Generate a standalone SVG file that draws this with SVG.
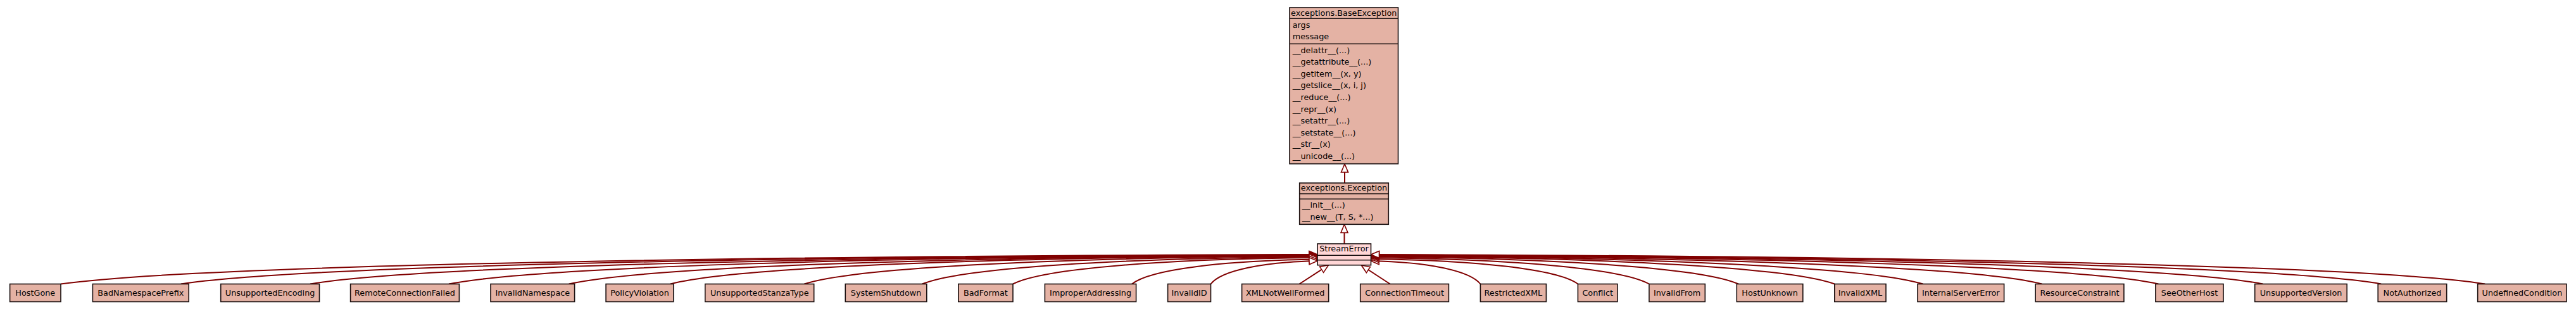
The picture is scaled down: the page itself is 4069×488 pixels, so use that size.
<svg xmlns="http://www.w3.org/2000/svg" width="4069" height="488" viewBox="0 0 4069 488">
<style>
.bg{fill:#ffffff}
.box{fill:#e4b2a4;stroke:#1a1010;stroke-width:1.6}
.sbox{fill:#ffd6d6;stroke:#1a1010;stroke-width:1.6}
.sep{stroke:#1a1010;stroke-width:1.6}
text{font-family:"DejaVu Sans","Liberation Sans",sans-serif;font-size:12.8px;fill:#000}
.c{text-anchor:middle}
.e{fill:none;stroke:#800000;stroke-width:2}
</style>
<defs>
<marker id="gen" markerUnits="userSpaceOnUse" markerWidth="16" markerHeight="14" refX="13" refY="5.5" orient="auto" viewBox="-1 -1 16 13">
<path d="M0,0 L13,5.5 L0,11 Z" fill="#ffffff" stroke="#800000" stroke-width="1.6"/>
</marker>
</defs>
<rect class="bg" x="0" y="0" width="4069" height="488"/>

<g id="connectors">
<path class="e" d="M2124,289 L2124,259" marker-end="url(#gen)"/>
<path class="e" d="M2123.5,385 L2123.5,354.5" marker-end="url(#gen)"/>
<path class="e" d="M96,448.5 C294.5,420.6 1088.5,404.3 2081,402" marker-end="url(#gen)"/>
<path class="e" d="M285.7,448.5 C465.2,420.9 1183.4,404.8 2081,402.5" marker-end="url(#gen)"/>
<path class="e" d="M490,448.5 C649.1,421.2 1285.5,405.3 2081,403" marker-end="url(#gen)"/>
<path class="e" d="M709,448.5 C846.2,421.2 1395,405.3 2081,403" marker-end="url(#gen)"/>
<path class="e" d="M898.7,448.5 C1016.9,421.5 1489.9,405.8 2081,403.5" marker-end="url(#gen)"/>
<path class="e" d="M1059,448.5 C1161.2,421.8 1570,406.2 2081,404" marker-end="url(#gen)"/>
<path class="e" d="M1270.5,448.5 C1351.6,422.1 1675.8,406.7 2081,404.5" marker-end="url(#gen)"/>
<path class="e" d="M1456.7,448.5 C1519.1,422.7 1768.9,407.7 2081,405.5" marker-end="url(#gen)"/>
<path class="e" d="M1600,448.5 C1648.1,423.6 1840.5,409.1 2081,407" marker-end="url(#gen)"/>
<path class="e" d="M1788,448.5 C1817.3,425.1 1934.5,411.5 2081,409.5" marker-end="url(#gen)"/>
<path class="e" d="M1912.5,448.5 C1929.4,426.6 1996.8,413.8 2081,412" marker-end="url(#gen)"/>
<path class="e" d="M2052.5,448.5 L2098.5,418.7" marker-end="url(#gen)"/>
<path class="e" d="M2195.7,448.5 L2150.5,419" marker-end="url(#gen)"/>
<path class="e" d="M2338.4,448.5 C2321.1,426.6 2252,413.8 2165.5,412" marker-end="url(#gen)"/>
<path class="e" d="M2492.4,448.5 C2459.7,424.8 2329,411 2165.5,409" marker-end="url(#gen)"/>
<path class="e" d="M2605,448.5 C2561,423.6 2385.3,409.1 2165.5,407" marker-end="url(#gen)"/>
<path class="e" d="M2746,448.5 C2688,422.7 2455.8,407.7 2165.5,405.5" marker-end="url(#gen)"/>
<path class="e" d="M2897.8,448.5 C2824.6,422.1 2531.7,406.7 2165.5,404.5" marker-end="url(#gen)"/>
<path class="e" d="M3037.5,448.5 C2950.3,421.8 2601.5,406.2 2165.5,404" marker-end="url(#gen)"/>
<path class="e" d="M3225.4,448.5 C3119.4,421.5 2695.5,405.8 2165.5,403.5" marker-end="url(#gen)"/>
<path class="e" d="M3409.4,448.5 C3285,421.2 2787.5,405.3 2165.5,403" marker-end="url(#gen)"/>
<path class="e" d="M3574.4,448.5 C3433.5,420.9 2870,404.8 2165.5,402.5" marker-end="url(#gen)"/>
<path class="e" d="M3761.2,448.5 C3601.6,420.9 2963.4,404.8 2165.5,402.5" marker-end="url(#gen)"/>
<path class="e" d="M3925.3,448.5 C3749.3,420.6 3045.4,404.3 2165.5,402" marker-end="url(#gen)"/>
</g>

<g id="BaseException">
<rect class="box" x="2037" y="12" width="171.5" height="246.7"/>
<line class="sep" x1="2037" y1="29.3" x2="2208.5" y2="29.3"/>
<line class="sep" x1="2037" y1="69.3" x2="2208.5" y2="69.3"/>
<text class="c" x="2122.7" y="24.5">exceptions.BaseException</text>
<text x="2041.7" y="43.5">args</text>
<text x="2041.7" y="62.3">message</text>
<text x="2041.7" y="83.5">__delattr__(...)</text>
<text x="2041.7" y="102.1">__getattribute__(...)</text>
<text x="2041.7" y="120.7">__getitem__(x, y)</text>
<text x="2041.7" y="139.3">__getslice__(x, i, j)</text>
<text x="2041.7" y="157.9">__reduce__(...)</text>
<text x="2041.7" y="176.5">__repr__(x)</text>
<text x="2041.7" y="195.1">__setattr__(...)</text>
<text x="2041.7" y="213.7">__setstate__(...)</text>
<text x="2041.7" y="232.3">__str__(x)</text>
<text x="2041.7" y="250.9">__unicode__(...)</text>
</g>

<g id="Exception">
<rect class="box" x="2052.7" y="289" width="140.6" height="65.3"/>
<line class="sep" x1="2052.7" y1="306" x2="2193.3" y2="306"/>
<line class="sep" x1="2052.7" y1="314.3" x2="2193.3" y2="314.3"/>
<text class="c" x="2123" y="301.2">exceptions.Exception</text>
<text x="2056.7" y="327.7">__init__(...)</text>
<text x="2056.7" y="346.5">__new__(T, S, *...)</text>
</g>

<g id="StreamError">
<rect class="sbox" x="2081" y="385" width="84.5" height="33.7"/>
<line class="sep" x1="2081" y1="403.3" x2="2165.5" y2="403.3"/>
<line class="sep" x1="2081" y1="410.7" x2="2165.5" y2="410.7"/>
<text class="c" x="2123" y="397.3">StreamError</text>
</g>

<g id="HostGone"><rect class="box" x="15.6" y="448.5" width="80.4" height="28"/><text class="c" x="55.8" y="466.5">HostGone</text></g>
<g id="BadNamespacePrefix"><rect class="box" x="146.4" y="448.5" width="151.8" height="28"/><text class="c" x="222.3" y="466.5">BadNamespacePrefix</text></g>
<g id="UnsupportedEncoding"><rect class="box" x="348.7" y="448.5" width="155.8" height="28"/><text class="c" x="426.6" y="466.5">UnsupportedEncoding</text></g>
<g id="RemoteConnectionFailed"><rect class="box" x="553.6" y="448.5" width="171.8" height="28"/><text class="c" x="639.5" y="466.5">RemoteConnectionFailed</text></g>
<g id="InvalidNamespace"><rect class="box" x="775" y="448.5" width="132.6" height="28"/><text class="c" x="841.3" y="466.5">InvalidNamespace</text></g>
<g id="PolicyViolation"><rect class="box" x="957.1" y="448.5" width="106.7" height="28"/><text class="c" x="1010.5" y="466.5">PolicyViolation</text></g>
<g id="UnsupportedStanzaType"><rect class="box" x="1113.8" y="448.5" width="171.9" height="28"/><text class="c" x="1199.8" y="466.5">UnsupportedStanzaType</text></g>
<g id="SystemShutdown"><rect class="box" x="1335.3" y="448.5" width="128.5" height="28"/><text class="c" x="1399.6" y="466.5">SystemShutdown</text></g>
<g id="BadFormat"><rect class="box" x="1513.8" y="448.5" width="86.2" height="28"/><text class="c" x="1556.9" y="466.5">BadFormat</text></g>
<g id="ImproperAddressing"><rect class="box" x="1650.4" y="448.5" width="144.2" height="28"/><text class="c" x="1722.5" y="466.5">ImproperAddressing</text></g>
<g id="InvalidID"><rect class="box" x="1844.6" y="448.5" width="67.9" height="28"/><text class="c" x="1878.6" y="466.5">InvalidID</text></g>
<g id="XMLNotWellFormed"><rect class="box" x="1961.6" y="448.5" width="137.1" height="28"/><text class="c" x="2030.2" y="466.5">XMLNotWellFormed</text></g>
<g id="ConnectionTimeout"><rect class="box" x="2148.7" y="448.5" width="139.7" height="28"/><text class="c" x="2218.6" y="466.5">ConnectionTimeout</text></g>
<g id="RestrictedXML"><rect class="box" x="2338.4" y="448.5" width="104" height="28"/><text class="c" x="2390.4" y="466.5">RestrictedXML</text></g>
<g id="Conflict"><rect class="box" x="2492.4" y="448.5" width="62.5" height="28"/><text class="c" x="2523.7" y="466.5">Conflict</text></g>
<g id="InvalidFrom"><rect class="box" x="2604.9" y="448.5" width="88.4" height="28"/><text class="c" x="2649.1" y="466.5">InvalidFrom</text></g>
<g id="HostUnknown"><rect class="box" x="2743.3" y="448.5" width="104.5" height="28"/><text class="c" x="2795.6" y="466.5">HostUnknown</text></g>
<g id="InvalidXML"><rect class="box" x="2897.8" y="448.5" width="81.2" height="28"/><text class="c" x="2938.4" y="466.5">InvalidXML</text></g>
<g id="InternalServerError"><rect class="box" x="3029" y="448.5" width="136.6" height="28"/><text class="c" x="3097.3" y="466.5">InternalServerError</text></g>
<g id="ResourceConstraint"><rect class="box" x="3215.2" y="448.5" width="139.7" height="28"/><text class="c" x="3285.1" y="466.5">ResourceConstraint</text></g>
<g id="SeeOtherHost"><rect class="box" x="3404.9" y="448.5" width="107.1" height="28"/><text class="c" x="3458.5" y="466.5">SeeOtherHost</text></g>
<g id="UnsupportedVersion"><rect class="box" x="3561.7" y="448.5" width="145.5" height="28"/><text class="c" x="3634.5" y="466.5">UnsupportedVersion</text></g>
<g id="NotAuthorized"><rect class="box" x="3756.2" y="448.5" width="108.5" height="28"/><text class="c" x="3810.5" y="466.5">NotAuthorized</text></g>
<g id="UndefinedCondition"><rect class="box" x="3913.7" y="448.5" width="140.3" height="28"/><text class="c" x="3983.9" y="466.5">UndefinedCondition</text></g>
</svg>
